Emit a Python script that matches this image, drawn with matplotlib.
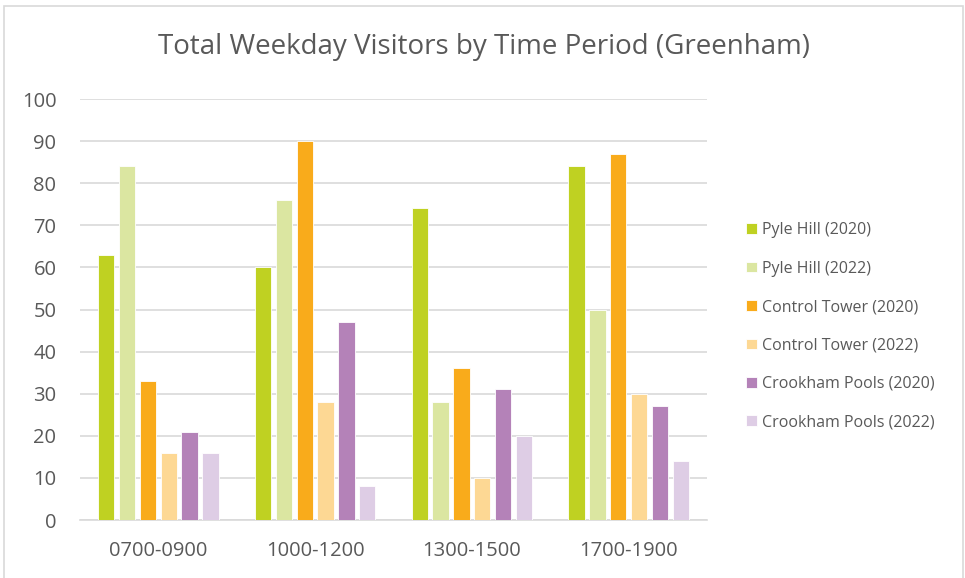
import numpy as np
import matplotlib.pyplot as plt
from matplotlib.patches import Rectangle

periods = ["0700-0900", "1000-1200", "1300-1500", "1700-1900"]
series = ["Pyle Hill (2020)", "Pyle Hill (2022)", "Control Tower (2020)",
          "Control Tower (2022)", "Crookham Pools (2020)", "Crookham Pools (2022)"]
pyle_2020 = [63, 60, 74, 84]
pyle_2022 = [84, 76, 28, 50]
tower_2020 = [33, 90, 36, 87]
tower_2022 = [16, 28, 10, 30]
pools_2020 = [21, 47, 31, 27]
pools_2022 = [16, 8, 20, 14]
colors = ["#BFD122", "#DBE6A1", "#F9AB1B", "#FDD894", "#B482B8", "#DECDE5"]

values = [pyle_2020, pyle_2022, tower_2020, tower_2022, pools_2020, pools_2022]

plt.rcParams['font.family'] = ['Open Sans', 'DejaVu Sans']
text_col = "#595959"

fig = plt.figure(figsize=(9.65, 5.78), dpi=100)
ax = fig.add_axes([80 / 965, 1 - 520 / 578, 627 / 965, 421 / 578])

# chart border
fig.patches.append(Rectangle((4 / 965, -0.1), 959 / 965, 1.1 - 6 / 578,
                             transform=fig.transFigure, fill=False,
                             edgecolor="#D9D9D9", linewidth=1.2))

x = np.arange(len(periods))
slot = 0.133
width = 0.104
for i, (name, vals) in enumerate(zip(series, values)):
    offs = (i - 2.5) * slot
    ax.bar(x + offs, vals, width, color=colors[i], label=name,
           edgecolor="white", linewidth=0.6, zorder=3)

ax.set_xlim(-0.5, 3.5)
ax.set_ylim(0, 100)
ax.set_yticks(range(0, 101, 10))
ax.set_xticks(x)
ax.set_xticklabels(periods)
ax.yaxis.grid(True, color="#D9D9D9", linewidth=1.2, zorder=0)
for s in ["top", "right", "left"]:
    ax.spines[s].set_visible(False)
ax.spines["bottom"].set_color("#D9D9D9")
ax.spines["bottom"].set_linewidth(1.2)
ax.tick_params(axis="both", length=0, labelsize=14.5, colors=text_col)
ax.tick_params(axis="x", pad=15)
ax.tick_params(axis="y", pad=17)

fig.text(484 / 965, 1 - 47 / 578, "Total Weekday Visitors by Time Period (Greenham)",
         ha="center", va="center", fontsize=20, color=text_col)

leg = fig.legend(loc="upper left", bbox_to_anchor=(740 / 965, 1 - 216 / 578),
                 frameon=False, fontsize=11.5, handlelength=0.65, handleheight=0.65,
                 handletextpad=0.35, labelspacing=1.4, borderaxespad=0)
for t in leg.get_texts():
    t.set_color(text_col)

fig.savefig("out.png", dpi=100)
